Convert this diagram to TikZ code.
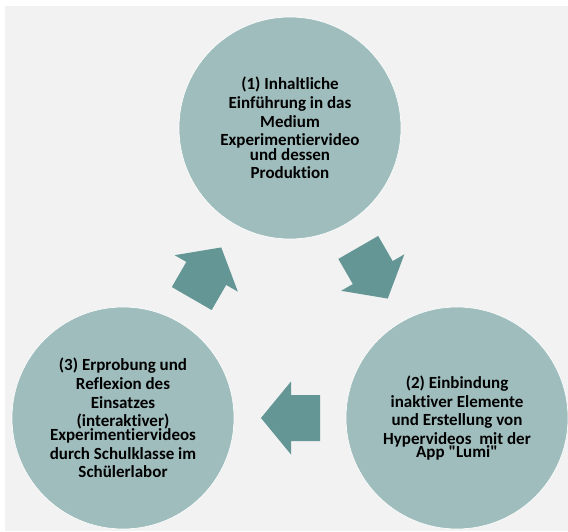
\documentclass[tikz,border=0pt]{standalone}
\usepackage{fontspec}
\setmainfont{Carlito}[Ligatures={NoCommon}]
\definecolor{circfill}{HTML}{A0BDBD}
\definecolor{arrfill}{HTML}{639695}
\definecolor{bggray}{HTML}{F2F2F2}
\begin{document}
\begin{tikzpicture}[x=1pt,y=1pt,
  circ/.style={circle, fill=circfill, draw=white, line width=0.6pt, minimum size=222pt, inner sep=0pt,
    align=center, font=\fontsize{17}{18.7}\selectfont\bfseries, text=black},
  blockarrow/.style={fill=arrfill, draw=none}]
\useasboundingbox (0,0) rectangle (568,531);
\fill[white] (0,0) rectangle (568,531);
\fill[bggray] (5,0) rectangle (568,525);
\node[circ] (c1) at (290,403) {(1) Inhaltliche\\Einführung in das\\Medium\\Experimentiervideo\\[-4.5pt]und dessen\\Produktion};
\node[circ] (c2) at (457,113) {(2) Einbindung\\inaktiver Elemente\\und Erstellung von\\Hypervideos\ \ mit der\\[-6pt]App \textquotedbl Lumi\textquotedbl};
\node[circ] (c3) at (123,113) {(3) Erprobung und\\Reflexion des\\Einsatzes\\(interaktiver)\\[-5pt]Experimentiervideos\\durch Schulklasse im\\Schülerlabor};
\coordinate (a1) at (373,258);
\coordinate (a2) at (290.5,113);
\coordinate (a3) at (206.5,258);
\foreach \c/\ang in {a1/-60, a2/180, a3/60}{
  \fill[blockarrow, shift={(\c)}, rotate=\ang]
    (-29.5,-23) -- (-0.5,-23) -- (-0.5,-36.5) -- (29.5,0) -- (-0.5,36.5) -- (-0.5,23) -- (-29.5,23) -- cycle;
}
\end{tikzpicture}
\end{document}
